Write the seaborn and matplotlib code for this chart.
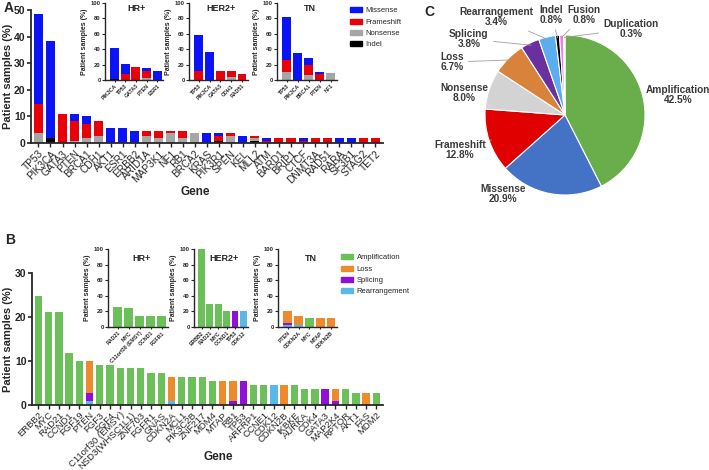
import numpy as np
import matplotlib
matplotlib.use('Agg')
import matplotlib.pyplot as plt
import matplotlib.patches as mpatches
import seaborn as sns

# ---------------- data ----------------
# panel A: short variants, % of patients
genes_a = ['TP53', 'PIK3CA', 'GATA3', 'PTEN', 'BRCA1', 'CDH1', 'AKT1', 'ESR1', 'ERBB2',
           'ARID1A', 'MAP3K1', 'NF1', 'RB1', 'BRCA2', 'KRAS', 'PIK3R1', 'SPEN', 'KEL',
           'MLL2', 'ATM', 'BARD1', 'BRIP1', 'CTCF', 'DNMT3A', 'RAD51', 'RARA', 'SF3B1',
           'STAG2', 'TET2']
indel_a = [0, 1.8, 0, 0, 0, 0, 0, 0, 0, 0, 0, 0, 0, 0, 0, 0.9, 0, 0, 0.9, 0, 0, 0, 0, 0, 0, 0, 0, 0, 0]
nonsense_a = [3.7, 0, 0, 0.9, 1.8, 2.8, 0, 0, 0, 2.8, 1.8, 3.7, 1.8, 3.7, 0, 0, 2.8, 0, 0.9,
              0, 0, 0, 0, 0, 0, 0, 0, 0, 0]
frameshift_a = [11.0, 0, 11.0, 7.3, 5.5, 5.5, 0, 0, 0, 1.8, 2.8, 0.9, 2.8, 0, 0, 1.8, 0.9, 0,
                0.9, 0.9, 1.8, 1.8, 0.9, 1.8, 1.8, 0, 0, 1.8, 1.8]
missense_a = [33.9, 36.7, 0, 2.8, 2.8, 0, 5.5, 5.5, 4.6, 0, 0, 0, 0, 0, 3.7, 0.9, 0, 2.8, 0,
              0.9, 0, 0, 0.9, 0, 0, 1.8, 1.8, 0, 0]

hr_genes_a = ['PIK3CA', 'TP53', 'GATA3', 'PTEN', 'ESR1']
hr_indel_a = [1.5, 0, 0, 0, 0]
hr_nonsense_a = [0, 0, 0, 3, 0]
hr_frameshift_a = [0, 8, 17.5, 8.5, 0]
hr_missense_a = [39.5, 13, 0, 4, 11.5]

her2_genes_a = ['TP53', 'PIK3CA', 'GATA3', 'CDH1', 'RAD51']
her2_indel_a = [0, 0, 0, 0, 0]
her2_nonsense_a = [0, 0, 0, 4, 0]
her2_frameshift_a = [12, 0, 12, 8, 8]
her2_missense_a = [46, 37, 0, 0, 0]

tn_genes_a = ['TP53', 'PIK3CA', 'BRCA1', 'PTEN', 'NF1']
tn_indel_a = [0, 0, 0, 0, 0]
tn_nonsense_a = [11, 0, 6, 0, 9]
tn_frameshift_a = [15, 0, 14, 8, 0]
tn_missense_a = [56, 35, 9, 3, 0]

# panel B: copy number / structural alterations
genes_b = ['ERBB2', 'MYC', 'RAD21', 'CCND1', 'FGF19', 'PTEN', 'FGF3', 'FGF4', 'C11orf30 (EMSY)',
           'NSD3(WHSC1L1)', 'ZNF703', 'FGFR1', 'GNAS', 'CDKN2A', 'MCL1', 'PIK3C2B', 'ZNF217',
           'MDM4', 'MTAP', 'RB1', 'TP53', 'ARFRP1', 'CCNE1', 'CDK12', 'CDKN2B', 'IKBKE',
           'AURKA', 'CDK4', 'GATA3', 'MAP2K4', 'RPTOR', 'AKT1', 'FAS', 'MDM2']
rearr_b = [0, 0, 0, 0, 0, 0.9, 0, 0, 0, 0, 0, 0, 0, 0.9, 0, 0, 0, 0, 0, 0, 0, 0, 0, 4.6,
           0, 0, 0, 0, 0, 0, 0, 0, 0, 0]
splicing_b = [0, 0, 0, 0, 0, 1.8, 0, 0, 0, 0, 0, 0, 0, 0, 0, 0, 0, 0, 0, 0.9, 5.5, 0, 0, 0,
              0, 0, 0, 0, 3.7, 0.9, 0, 0, 0, 0]
loss_b = [0, 0, 0, 0, 0, 7.3, 0, 0, 0, 0, 0, 0, 0, 5.5, 0, 0, 0, 0, 5.5, 4.6, 0, 0, 0, 0,
          4.6, 0, 0, 0, 0, 2.8, 0, 0, 2.8, 0]
amp_b = [24.8, 21.1, 21.1, 11.9, 10.1, 0, 9.2, 9.2, 8.3, 8.3, 8.3, 7.3, 7.3, 0, 6.4, 6.4, 6.4,
         5.5, 0, 0, 0, 4.6, 4.6, 0, 0, 4.6, 3.7, 3.7, 0, 0, 3.7, 2.8, 0, 2.8]

hr_genes_b = ['RAD21', 'MYC', 'C11orf30 (EMSY)', 'CCND1', 'FGFR1']
hr_rearr_b = [0, 0, 0, 0, 0]
hr_splicing_b = [0, 0, 0, 0, 0]
hr_loss_b = [0, 0, 0, 0, 0]
hr_amp_b = [26, 24, 14, 14, 14]

her2_genes_b = ['ERBB2', 'RAD21', 'MYC', 'CCND1', 'TP53', 'CDK12']
her2_rearr_b = [0, 0, 0, 0, 0, 21]
her2_splicing_b = [0, 0, 0, 0, 21, 0]
her2_loss_b = [0, 0, 0, 0, 0, 0]
her2_amp_b = [100, 29, 29, 21, 0, 0]

tn_genes_b = ['PTEN', 'CDKN2A', 'MYC', 'MTAP', 'CDKN2B']
tn_rearr_b = [2, 2, 0, 0, 0]
tn_splicing_b = [3, 0, 0, 0, 0]
tn_loss_b = [15, 12, 0, 11, 11]
tn_amp_b = [0, 0, 11, 0, 0]

# panel C: share of all alterations
pie_labels = ['Amplification', 'Missense', 'Frameshift', 'Nonsense', 'Loss', 'Splicing',
              'Rearrangement', 'Indel', 'Fusion', 'Duplication']
pie_values = [42.5, 20.9, 12.8, 8.0, 6.7, 3.8, 3.4, 0.8, 0.8, 0.3]

# colours
cols_a = ['#000000', '#a6a6a6', '#e8000b', '#0a14f5']        # indel, nonsense, frameshift, missense
names_a = ['Indel', 'Nonsense', 'Frameshift', 'Missense']
cols_b = ['#5ab8e8', '#9010d8', '#ec8a2c', '#6cc05a']        # rearr, splicing, loss, amp
names_b = ['Rearrangement', 'Splicing', 'Loss', 'Amplification']
pie_cols = ['#6aad4b', '#4472c4', '#e00000', '#d3d3d3', '#d9823b', '#6a30a0',
            '#5aaef0', '#000000', '#f07cf0', '#ffff30']

# ---------------- style ----------------
sns.set_theme(style='ticks')
plt.rcParams['font.family'] = ['Liberation Sans', 'DejaVu Sans']
plt.rcParams['axes.linewidth'] = 1.3

W, H = 709, 470
fig = plt.figure(figsize=(W / 100, H / 100), dpi=100)


def box(x0, y0, x1, y1):
    return [x0 / W, 1 - y1 / H, (x1 - x0) / W, (y1 - y0) / H]


def stacked(ax, genes, layers, colors, width):
    cum = np.zeros(len(genes))
    tops = []
    for vals in layers:
        cum = cum + np.array(vals, dtype=float)
        tops.append(cum.copy())
    # draw the tallest cumulative layer first, then overdraw the lower ones
    for top, c in reversed(list(zip(tops, colors))):
        sns.barplot(x=genes, y=top, color=c, width=width, saturation=1,
                    errorbar=None, linewidth=0, ax=ax)


def main_axes(rect, genes, layers, colors, ymax, yticks, width, ylab_x, xlab_xy, gene_fs):
    ax = fig.add_axes(rect)
    stacked(ax, genes, layers, colors, width)
    sns.despine(ax=ax)
    ax.set_xlim(-0.62, len(genes) - 0.35)
    ax.set_ylim(0, ymax)
    ax.set_yticks(yticks)
    ax.set_xticks(range(len(genes)))
    ax.set_xticklabels(genes, rotation=45, ha='right', rotation_mode='anchor', fontsize=gene_fs)
    ax.tick_params(axis='x', length=3, width=1, pad=1)
    ax.tick_params(axis='y', length=3, width=1.2, labelsize=7.5, pad=1)
    for t in ax.get_yticklabels():
        t.set_fontweight('bold')
    ax.set_ylabel('Patient samples (%)', fontsize=8, fontweight='bold')
    ax.yaxis.set_label_coords(ylab_x, 0.5)
    ax.set_xlabel('Gene', fontsize=8.5, fontweight='bold')
    ax.xaxis.set_label_coords(*xlab_xy)
    return ax


def inset_axes(rect, genes, layers, colors, title, title_y):
    ax = fig.add_axes(rect)
    stacked(ax, genes, layers, colors, 0.82)
    sns.despine(ax=ax)
    for s in ax.spines.values():
        s.set_linewidth(1)
    ax.set_xlim(-0.9, len(genes) - 0.45)
    ax.set_ylim(0, 100)
    ax.set_yticks([0, 20, 40, 60, 80, 100])
    ax.set_xticks(range(len(genes)))
    ax.set_xticklabels(genes, rotation=45, ha='right', rotation_mode='anchor',
                       fontsize=3.8, fontweight='bold')
    ax.tick_params(axis='x', length=1.5, width=0.8, pad=1)
    ax.tick_params(axis='y', length=2, width=0.8, labelsize=4.2, pad=1)
    for t in ax.get_yticklabels():
        t.set_fontweight('bold')
    ax.set_ylabel('Patient samples (%)', fontsize=5, fontweight='bold', labelpad=2)
    ax.set_xlabel('')
    ax.text(0.55, title_y, title, transform=ax.transAxes, ha='center', va='top',
            fontsize=6.5, fontweight='bold')
    return ax


# ---------------- panel A ----------------
main_axes(box(31, 10, 383, 143), genes_a,
          [indel_a, nonsense_a, frameshift_a, missense_a], cols_a, 50,
          [0, 10, 20, 30, 40, 50], 0.75, (13 - 31) / 352, (0.466, (143 - 186) / 133), 7.3)
inset_axes(box(105, 3, 163, 80), hr_genes_a,
           [hr_indel_a, hr_nonsense_a, hr_frameshift_a, hr_missense_a], cols_a, 'HR+', 0.99)
inset_axes(box(189, 3, 248, 80), her2_genes_a,
           [her2_indel_a, her2_nonsense_a, her2_frameshift_a, her2_missense_a], cols_a, 'HER2+', 0.99)
inset_axes(box(277, 3, 337, 80), tn_genes_a,
           [tn_indel_a, tn_nonsense_a, tn_frameshift_a, tn_missense_a], cols_a, 'TN', 0.99)

handles_a = [mpatches.Patch(color=c, label=n) for c, n in zip(cols_a[::-1], names_a[::-1])]
fig.legend(handles=handles_a, loc='upper left', bbox_to_anchor=(345 / W, 1 - 2 / H),
           frameon=False, fontsize=5.5, handlelength=1.5, handleheight=0.6,
           labelspacing=0.55, handletextpad=0.5, borderpad=0.2)

# ---------------- panel B ----------------
main_axes(box(32, 273, 383, 405), genes_b,
          [rearr_b, splicing_b, loss_b, amp_b], cols_b, 30, [0, 10, 20, 30], 0.72,
          (13 - 32) / 351, (0.53, (405 - 451) / 132), 6.8)
inset_axes(box(108, 249, 168, 327), hr_genes_b,
           [hr_rearr_b, hr_splicing_b, hr_loss_b, hr_amp_b], cols_b, 'HR+', 0.93)
inset_axes(box(194, 249, 248, 327), her2_genes_b,
           [her2_rearr_b, her2_splicing_b, her2_loss_b, her2_amp_b], cols_b, 'HER2+', 0.93)
inset_axes(box(278, 249, 337, 327), tn_genes_b,
           [tn_rearr_b, tn_splicing_b, tn_loss_b, tn_amp_b], cols_b, 'TN', 0.93)

handles_b = [mpatches.Patch(color=c, label=n) for c, n in zip(cols_b[::-1], names_b[::-1])]
fig.legend(handles=handles_b, loc='upper left', bbox_to_anchor=(336 / W, 1 - 249 / H),
           frameon=False, fontsize=5.5, handlelength=1.5, handleheight=0.6,
           labelspacing=0.55, handletextpad=0.5, borderpad=0.2)

# ---------------- panel C ----------------
cx, cy, r = 565, 115, 80
axp = fig.add_axes(box(cx - r, cy - r, cx + r, cy + r))
wedges, _ = axp.pie(pie_values, colors=pie_cols, startangle=90, counterclock=False,
                    radius=1, wedgeprops=dict(edgecolor='white', linewidth=0.8))
axp.set_xlim(-1, 1)
axp.set_ylim(-1, 1)
axp.set_aspect('equal')
axp.axis('off')


def px(x, y):
    return ((x - cx) / r, (cy - y) / r)


label_pos = {
    'Amplification': (678, 95), 'Missense': (503, 194), 'Frameshift': (460, 150),
    'Nonsense': (464, 93), 'Loss': (452, 62), 'Splicing': (469, 39),
    'Rearrangement': (496, 17), 'Indel': (551, 15), 'Fusion': (584, 15),
    'Duplication': (631, 29),
}
leader = {'Frameshift', 'Loss', 'Splicing', 'Rearrangement', 'Indel', 'Fusion', 'Duplication'}
for w, lab, v in zip(wedges, pie_labels, pie_values):
    txt = f'{lab}\n{v:.1f}%'
    xt, yt = px(*label_pos[lab])
    ang = np.deg2rad((w.theta1 + w.theta2) / 2)
    tip = (np.cos(ang) * 0.97, np.sin(ang) * 0.97)
    if lab in leader:
        axp.annotate(txt, xy=tip, xytext=(xt, yt), ha='center', va='center',
                     fontsize=7.3, fontweight='bold', color='#3a3a3a', annotation_clip=False,
                     linespacing=1.05,
                     arrowprops=dict(arrowstyle='-', color='#a0a0a0', lw=0.6, shrinkA=1, shrinkB=0))
    else:
        axp.text(xt, yt, txt, ha='center', va='center', fontsize=7.3, fontweight='bold',
                 color='#3a3a3a', linespacing=1.05)

# panel letters
fig.text(4 / W, 1 - 8 / H, 'A', fontsize=10, fontweight='bold', va='center')
fig.text(5 / W, 1 - 240 / H, 'B', fontsize=10, fontweight='bold', va='center')
fig.text(424 / W, 1 - 12 / H, 'C', fontsize=10, fontweight='bold', va='center')

fig.savefig('out.png', dpi=100)
